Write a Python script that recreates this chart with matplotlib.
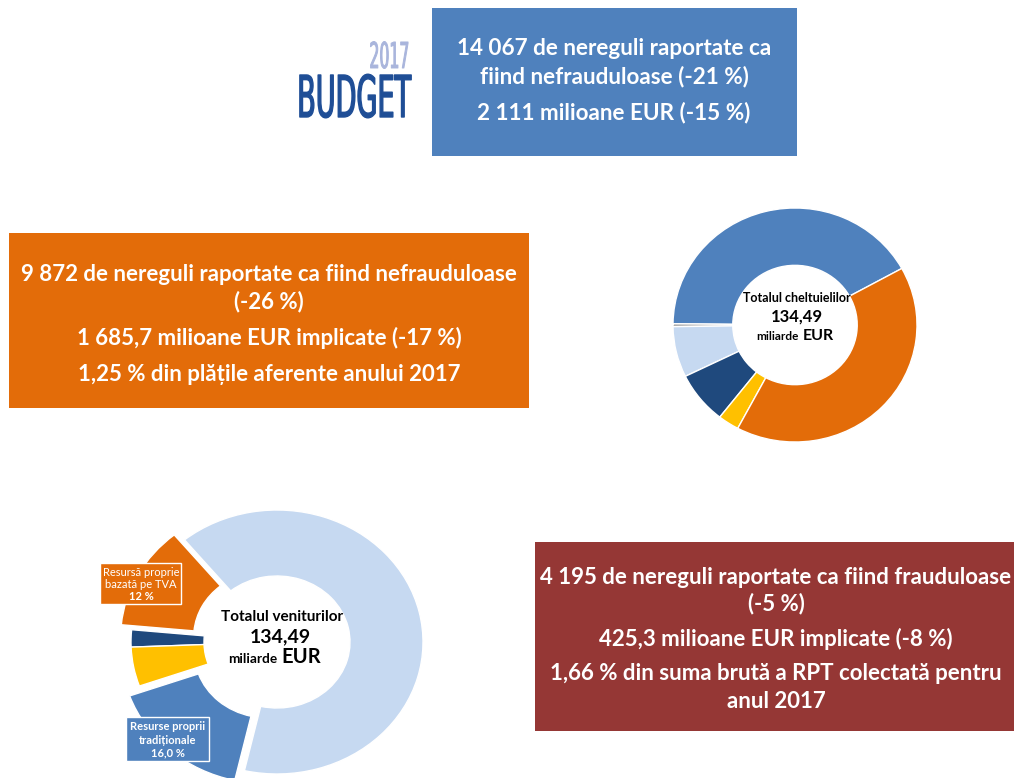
import matplotlib
matplotlib.use("Agg")
import matplotlib.pyplot as plt
from matplotlib.patches import Rectangle
from matplotlib.patheffects import AbstractPathEffect
from matplotlib.transforms import Affine2D

# ---------------- data ----------------
exp_categories = ["Resurse naturale", "Instrumente speciale", "Europa în lume",
                  "Administrație", "Securitate și cetățenie",
                  "Creștere inteligentă și favorabilă incluziunii"]
exp_values = [41.8, 0.4, 7.0, 7.2, 2.8, 40.8]
exp_colors = ["#4F81BD", "#A5A5A5", "#C6D9F1", "#1F497D", "#FFC000", "#E36C09"]

rev_categories = ["Resursa proprie bazată pe VNB", "Resursă proprie bazată pe TVA",
                  "Alte venituri", "Excedent", "Resurse proprii tradiționale"]
rev_values = [64.5, 12.6, 2.1, 4.8, 16.0]
rev_colors = ["#C6D9F1", "#E36C09", "#1F497D", "#FFC000", "#4F81BD"]
rev_explode = [0.0, 0.08, 0.0, 0.0, 0.10]

total_exp = "134,49"
total_rev = "134,49"

box_blue_lines = ["14 067 de nereguli raportate ca", "fiind nefrauduloase (-21 %)",
                  "2 111 milioane EUR (-15 %)"]
box_orange_lines = ["9 872 de nereguli raportate ca fiind nefrauduloase", "(-26 %)",
                    "1 685,7 milioane EUR implicate (-17 %)",
                    "1,25 % din plățile aferente anului 2017"]
box_red_lines = ["4 195 de nereguli raportate ca fiind frauduloase", "(-5 %)",
                 "425,3 milioane EUR implicate (-8 %)",
                 "1,66 % din suma brută a RPT colectată pentru", "anul 2017"]

label_vat = ["Resursă proprie", "bazată pe TVA", "12 %"]
label_tor = ["Resurse proprii", "tradiționale", "16,0 %"]

# ---------------- helpers ----------------
class HScale(AbstractPathEffect):
    """Squeeze text horizontally about its right edge (condensed look)."""
    def __init__(self, sx, stroke=0.0):
        super().__init__()
        self.sx = sx
        self.stroke = stroke

    def draw_path(self, renderer, gc, tpath, affine, rgbFace=None):
        x1 = tpath.get_extents(affine).x1
        aff = affine + Affine2D().translate(-x1, 0).scale(self.sx, 1).translate(x1, 0)
        gc0 = renderer.new_gc()
        gc0.copy_properties(gc)
        if self.stroke > 0 and rgbFace is not None:
            gc0.set_linewidth(self.stroke)
            gc0.set_foreground(rgbFace)
        renderer.draw_path(gc0, tpath, aff, rgbFace)
        gc0.restore()


W, H = 1014, 778
FONT = ["Lato", "DejaVu Sans"]
fig = plt.figure(figsize=(W / 100, H / 100), dpi=100)
fig.patch.set_facecolor("white")


def pix_axes(cx, cy, rx, ry):
    return fig.add_axes([(cx - rx) / W, (H - (cy + ry)) / H, 2 * rx / W, 2 * ry / H])


# ---------------- expenditure donut (top right) ----------------
axe = pix_axes(795, 325, 122, 117)
wedges, _ = axe.pie(exp_values, colors=exp_colors, startangle=28.9, counterclock=True,
                    radius=1.0, frame=True,
                    wedgeprops=dict(width=0.49, edgecolor="white", linewidth=1.0))
axe.set_aspect("auto")
axe.set_xlim(-1, 1)
axe.set_ylim(-1, 1)
axe.axis("off")

# ---------------- revenue donut (bottom left) ----------------
axr = pix_axes(277, 642, 146, 132)
wedges_r, _ = axr.pie(rev_values, colors=rev_colors, startangle=257.1, counterclock=True,
                      explode=rev_explode, radius=1.0, frame=True,
                      wedgeprops=dict(width=0.50, edgecolor="white", linewidth=1.0))
for w in wedges_r:
    w.set_clip_on(False)
axr.set_aspect("auto")
axr.set_xlim(-1, 1)
axr.set_ylim(-1, 1)
axr.axis("off")

# ---------------- overlay axes in pixel coordinates ----------------
ax = fig.add_axes([0, 0, 1, 1])
ax.set_xlim(0, W)
ax.set_ylim(H, 0)
ax.patch.set_alpha(0)
ax.axis("off")


def box(x0, y0, x1, y1, color):
    ax.add_patch(Rectangle((x0, y0), x1 - x0, y1 - y0, facecolor=color,
                           edgecolor="none", zorder=1))


def lines(xc, ys, texts, size, color="white", weight="bold"):
    for y, t in zip(ys, texts):
        ax.text(xc, y, t, ha="center", va="center_baseline", fontsize=size, color=color,
                fontweight=weight, family=FONT, zorder=3)


# blue box
box(432, 8, 797, 156, "#4F81BD")
lines(614, [46, 75, 111], box_blue_lines, 16.2)

# orange box
box(9, 233, 529, 408, "#E36C09")
lines(269, [272, 300, 336, 372], box_orange_lines, 16.0)

# red box
box(535, 542, 1014, 731, "#953735")
lines(776, [576, 602, 637, 672, 699], box_red_lines, 16.0)

# logo
ax.text(411, 68, "2017", ha="right", va="baseline", fontsize=25.7, color="#A9B5DC",
        family="DejaVu Sans", path_effects=[HScale(0.44, stroke=0.7)], zorder=3)
ax.text(411, 117, "BUDGET", ha="right", va="baseline", fontsize=41.5, color="#1F4E96",
        family="DejaVu Sans", path_effects=[HScale(0.47, stroke=1.0)], zorder=3)

# expenditure centre text
ax.text(797, 298, "Totalul cheltuielilor", ha="center", va="center", fontsize=9.0,
        fontweight="bold", family=FONT, color="black", zorder=3)
ax.text(797, 317, total_exp, ha="center", va="center", fontsize=12,
        fontweight="bold", family=FONT, color="black", zorder=3)
ax.text(799, 340, "miliarde", ha="right", va="baseline", fontsize=8.5,
        fontweight="bold", family=FONT, color="black", zorder=3)
ax.text(803, 340, "EUR", ha="left", va="baseline", fontsize=11.5,
        fontweight="bold", family=FONT, color="black", zorder=3)

# revenue centre text
ax.text(282, 617, "Totalul veniturilor", ha="center", va="center", fontsize=11.0,
        fontweight="bold", family=FONT, color="black", zorder=3)
ax.text(280, 637, total_rev, ha="center", va="center", fontsize=14,
        fontweight="bold", family=FONT, color="black", zorder=3)
ax.text(277, 663, "miliarde", ha="right", va="baseline", fontsize=9.8,
        fontweight="bold", family=FONT, color="black", zorder=3)
ax.text(281, 663, "EUR", ha="left", va="baseline", fontsize=14.5,
        fontweight="bold", family=FONT, color="black", zorder=3)

# data labels of the revenue donut
ax.add_patch(Rectangle((100, 563), 81, 41, facecolor="#E36C09", edgecolor="white",
                       linewidth=1.0, zorder=4))
for y, t, wgt in zip([573, 585, 597], label_vat, ["normal", "normal", "bold"]):
    ax.text(141, y, t, ha="center", va="center", fontsize=8.0, color="white",
            fontweight=wgt, family=FONT, zorder=5)
ax.add_patch(Rectangle((126, 717), 83, 44, facecolor="#4F81BD", edgecolor="white",
                       linewidth=1.0, zorder=4))
for y, t in zip([726, 740, 753], label_tor):
    ax.text(168, y, t, ha="center", va="center", fontsize=8.0, color="white",
            fontweight="bold", family=FONT, zorder=5)

fig.savefig("out.png", dpi=100, facecolor="white")
